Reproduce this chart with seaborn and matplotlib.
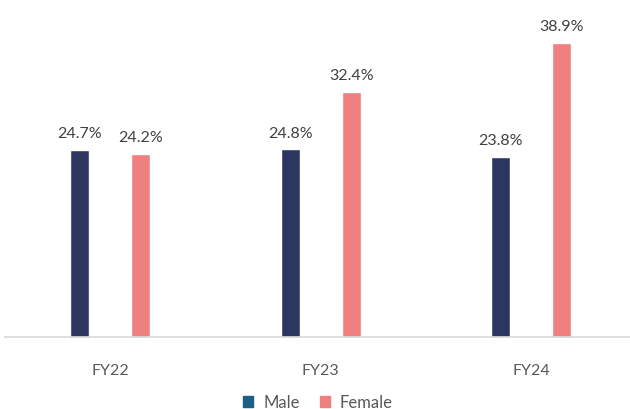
import pandas as pd
import seaborn as sns
import matplotlib.pyplot as plt
from matplotlib.patches import Patch

years = ['FY22', 'FY23', 'FY24']
male = [24.7, 24.8, 23.8]
female = [24.2, 32.4, 38.9]

df = pd.DataFrame({
    'year': years * 2,
    'gender': ['Male'] * 3 + ['Female'] * 3,
    'value': male + female,
})

sns.set_style('white')
plt.rcParams['font.family'] = ['Lato', 'DejaVu Sans']

fig = plt.figure(figsize=(6.3, 4.1), dpi=100)
ax = fig.add_axes([5 / 630, (410 - 338) / 410, 625 / 630, 338 / 410])

sns.barplot(data=df, x='year', y='value', hue='gender',
            palette={'Male': '#2b3760', 'Female': '#f08080'}, saturation=1,
            width=0.58, gap=0.69, legend=False, ax=ax)

for cont in ax.containers:
    ax.bar_label(cont, fmt='%.1f%%', padding=7, fontsize=11.5, color='#404040')

ax.set_ylim(0, 44.65)
ax.set_xlim(-0.5, 2.47)
ax.set_yticks([])
ax.set_xlabel('')
ax.set_ylabel('')
for s in ['top', 'right', 'left']:
    ax.spines[s].set_visible(False)
ax.spines['bottom'].set_color('#d9d9d9')
ax.spines['bottom'].set_linewidth(1.2)
ax.tick_params(axis='x', length=0, pad=19, labelsize=11.5, labelcolor='#595959')

handles = [Patch(color='#1f5f85', label='Male'), Patch(color='#f08080', label='Female')]
fig.legend(handles=handles, loc='lower center', bbox_to_anchor=(0.505, -0.04), ncol=2,
           frameon=False, fontsize=12, handlelength=0.6, handleheight=0.6,
           handletextpad=0.6, columnspacing=1.2, labelcolor='#595959')

fig.savefig('out.png', dpi=100)
